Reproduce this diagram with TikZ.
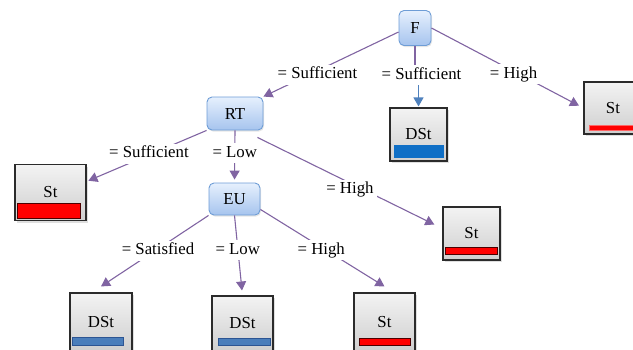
\documentclass[tikz,border=0pt]{standalone}
\usepackage{fontspec}
\setmainfont{Liberation Serif}
\usetikzlibrary{arrows.meta,shadows}
\definecolor{conn}{HTML}{8064A2}
\definecolor{connblue}{HTML}{4F81BD}
\definecolor{dectop}{HTML}{E6F0FD}
\definecolor{decbot}{HTML}{A6C4EE}
\definecolor{decborder}{HTML}{6E9DD6}
\definecolor{leaftop}{HTML}{F3F3F3}
\definecolor{leafbot}{HTML}{CFCFCF}
\definecolor{leafborder}{HTML}{2B2B2B}
\definecolor{solidblue}{HTML}{0F6FC6}
\definecolor{barblue}{HTML}{4A7EBB}
\definecolor{barblueedge}{HTML}{2C5593}
\begin{document}
\begin{tikzpicture}[x=1pt,y=-1pt,
  txt/.style={font=\fontsize{16.8}{20}\selectfont},
  decision/.style={txt, rounded corners=5pt, draw=decborder, line width=0.9pt,
    top color=dectop, bottom color=decbot, inner sep=0pt,
    drop shadow={shadow xshift=1pt, shadow yshift=-1.5pt, opacity=0.2}},
  leafbox/.style={txt, draw=leafborder, line width=1.1pt,
    top color=leaftop, bottom color=leafbot, inner sep=0pt,
    drop shadow={shadow xshift=2pt, shadow yshift=-2pt, opacity=0.25}},
  lab/.style={txt, fill=white, inner xsep=3pt, inner ysep=2.5pt,
    text height=11.5pt, text depth=3.5pt},
  flow/.style={draw=conn, line width=1.1pt, -{Triangle[length=9pt,width=10pt]}},
  plainflow/.style={draw=conn, line width=1.1pt},
  redbar/.style={fill=red, draw=black!70!red, line width=0.8pt},
  pinkbar/.style={fill=red, draw=red!60, line width=0.8pt},
  solidbar/.style={fill=solidblue, draw=solidblue, line width=0.8pt},
  bluebar/.style={fill=barblue, draw=barblueedge, line width=1pt}
]
\useasboundingbox (0,0) rectangle (633,349);

% decision nodes
\node[decision, minimum width=32pt, minimum height=35pt] (F)  at (415,28)    {F};
\node[decision, minimum width=56pt, minimum height=33pt] (RT) at (235,113.5) {RT};
\node[decision, minimum width=51pt, minimum height=32pt] (EU) at (234.5,199) {EU};

% leaf nodes
\node[leafbox, minimum width=71pt, minimum height=56pt] (S2) at (50.5,192.5) {St};
\node[leafbox, minimum width=57pt, minimum height=53pt] (D1) at (418.5,134.5) {DSt};
\node[leafbox, minimum width=58pt, minimum height=52pt] (S1) at (613,108)    {St};
\node[leafbox, minimum width=57pt, minimum height=53pt] (S3) at (471.5,233.5) {St};
\node[leafbox, minimum width=62pt, minimum height=58pt] (D2) at (101,322)    {DSt};
\node[leafbox, minimum width=61pt, minimum height=55pt] (D3) at (242.5,323.5) {DSt};
\node[leafbox, minimum width=61pt, minimum height=58pt] (S4) at (384.5,322)  {St};

% status bars inside the leaves
\draw[redbar]   ([shift={(3pt,3pt)}]S2.south west) rectangle ([shift={(-6pt,18pt)}]S2.south east);
\draw[solidbar] ([shift={(5pt,4pt)}]D1.south west) rectangle ([shift={(-4pt,16pt)}]D1.south east);
\draw[pinkbar]  ([shift={(6pt,4pt)}]S1.south west) rectangle ([shift={(-2pt,9pt)}]S1.south east);
\draw[redbar]   ([shift={(3pt,6pt)}]S3.south west) rectangle ([shift={(-3pt,13pt)}]S3.south east);
\draw[bluebar]  ([shift={(3pt,6pt)}]D2.south west) rectangle ([shift={(-9pt,14pt)}]D2.south east);
\draw[bluebar]  ([shift={(7pt,6pt)}]D3.south west) rectangle ([shift={(-3pt,13pt)}]D3.south east);
\draw[redbar]   ([shift={(6pt,6pt)}]S4.south west) rectangle ([shift={(-5pt,13pt)}]S4.south east);

% connectors from F
\draw[flow] ([yshift=-4pt]F.west) -- node[lab, pos=0.6, yshift=-4pt] (l1) {= Sufficient} (RT.north east);
\node[lab] (l2) at (421.5,75) {= Sufficient};
\draw[plainflow] (F.south) -- (F.south |- l2.north);
\draw[draw=connblue, line width=1.1pt, -{Triangle[length=9pt,width=10pt]}]
  (D1.north |- l2.south) -- ([yshift=1pt]D1.north);
\draw[flow, shorten >=5pt] (F.east) -- node[lab, pos=0.54, yshift=-3pt] (l3) {= High} (S1.west);

% connectors from RT
\draw[flow, shorten >=2pt] (RT.south west) -- node[lab, pos=0.48, yshift=1pt] (l4) {= Sufficient} ([yshift=11pt]S2.east);
\draw[flow, shorten >=3pt] (RT.south) -- node[lab, pos=0.42, yshift=-1pt] (l5) {= Low} (EU.north);
\draw[flow, shorten >=9pt] ([shift={(-6pt,-7pt)}]RT.south east) -- node[lab, pos=0.5, yshift=-7pt] (l6) {= High} ([yshift=5pt]S3.west);

% connectors from EU
\draw[flow] (EU.south west) -- node[lab, pos=0.47, yshift=-2pt] (l7) {= Satisfied} ([yshift=6pt]D2.north);
\draw[flow, shorten >=5pt] (EU.south) -- node[lab, pos=0.41, yshift=-2pt] (l8) {= Low} (D3.north);
\draw[flow] ([yshift=6pt]EU.south east) -- node[lab, pos=0.49, yshift=-3pt] (l9) {= High} ([yshift=6pt]S4.north);
\end{tikzpicture}
\end{document}
